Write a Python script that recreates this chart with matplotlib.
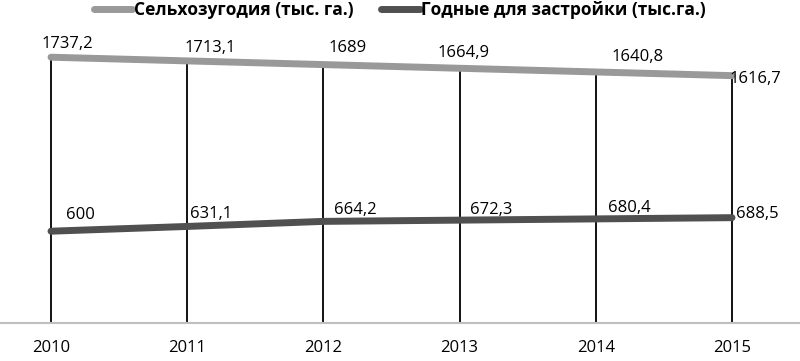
import numpy as np
import matplotlib.pyplot as plt

# data
years = ['2010', '2011', '2012', '2013', '2014', '2015']
agri = [1737.2, 1713.1, 1689, 1664.9, 1640.8, 1616.7]
build = [600, 631.1, 664.2, 672.3, 680.4, 688.5]
agri_labels = ['1737,2', '1713,1', '1689', '1664,9', '1640,8', '1616,7']
build_labels = ['600', '631,1', '664,2', '672,3', '680,4', '688,5']

# label offsets (pixels, text centre relative to point)
agri_off = [(16, 13), (23, 13), (24, 17), (4, 15), (42, 15), (23, -3)]
build_off = [(29, 16), (24, 12), (32, 11), (32, 10), (34, 11), (25, 4)]

plt.rcParams['font.family'] = ['Open Sans', 'DejaVu Sans']

W, H = 800, 361
fig = plt.figure(figsize=(W / 100, H / 100), dpi=100)
ax = fig.add_axes([0, 38 / H, 1, 323 / H])

x = np.arange(len(years))
light = '#999999'
dark = '#505050'

# drop lines
tops = np.maximum(agri, build)
ax.vlines(x, 0, tops, color='black', lw=1.3, zorder=1)

ax.plot(x, agri, color=light, lw=5, solid_capstyle='round', zorder=2,
        label='Сельхозугодия (тыс. га.)')
ax.plot(x, build, color=dark, lw=5, solid_capstyle='round', zorder=2,
        label='Годные для застройки (тыс.га.)')

for i in range(len(x)):
    ax.annotate(agri_labels[i], (x[i], agri[i]), xytext=agri_off[i],
                textcoords='offset pixels', ha='center', va='center',
                fontsize=12, color='black', zorder=3)
    ax.annotate(build_labels[i], (x[i], build[i]), xytext=build_off[i],
                textcoords='offset pixels', ha='center', va='center',
                fontsize=12, color='black', zorder=3)

ax.set_xlim(-51 / 136.2, (W - 51) / 136.2)
ax.set_ylim(0, 323 / 0.153)
ax.set_xticks(x)
ax.set_xticklabels(years, fontsize=12)
ax.tick_params(axis='x', length=0, pad=12)
ax.set_yticks([])
for s in ['top', 'left', 'right']:
    ax.spines[s].set_visible(False)
ax.spines['bottom'].set_color('#bfbfbf')
ax.spines['bottom'].set_linewidth(1.5)

fig.legend(loc='center', bbox_to_anchor=(0.5, 1 - 10 / H), ncol=2,
           frameon=False, prop={'weight': 'bold', 'size': 12.5},
           handlelength=2.2, handletextpad=0.1, columnspacing=1.6)

fig.savefig('out.png', dpi=100)
